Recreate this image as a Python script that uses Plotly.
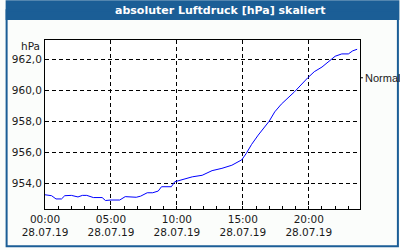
import plotly.graph_objects as go

# ---- data ----
day = "2019-07-28"
times = ["00:00","00:30","00:50","01:15","01:30","02:00","02:30","02:50","03:10","03:40",
         "04:20","04:35","05:00","05:40","06:05","06:30","06:55","07:15","07:45","08:10",
         "08:35","08:50","09:35","09:50","10:20","11:10","11:55","12:40","13:25","14:10",
         "14:55","15:15","15:40","16:10","17:00","17:25","17:55","18:55","19:55","20:25",
         "21:00","21:35","22:00","22:30","23:00","23:20","23:40"]
values = [953.24,953.18,952.97,952.97,953.18,953.2,953.1,953.2,953.2,953.06,
          953.06,952.87,952.9,952.9,953.12,953.08,953.08,953.15,953.37,953.37,
          953.48,953.76,953.76,954.08,954.2,954.4,954.5,954.8,954.95,955.15,
          955.5,955.9,956.5,957.1,958.0,958.6,959.1,959.9,960.8,961.2,
          961.5,961.9,962.2,962.35,962.35,962.55,962.65]
x_tick_times = ["00:00","05:00","10:00","15:00","20:00"]
x_tick_labels = ["00:00<br>28.07.19","05:00<br>28.07.19","10:00<br>28.07.19",
                 "15:00<br>28.07.19","20:00<br>28.07.19"]
y_ticks = [954, 956, 958, 960, 962]
y_tick_labels = ["954,0", "956,0", "958,0", "960,0", "962,0"]
title = "absoluter Luftdruck [hPa] skaliert"
unit = "hPa"
series_name = "Normal"

W, H = 400, 250
L, R, T, B = 40, 40, 40, 40
PW, PH = W - L - R, H - T - B

def px(x):
    return (x - L) / PW

def py(y):
    return (H - B - y) / PH

FONT = "DejaVu Sans"
BLUE = "#1B5E96"

fig = go.Figure()
fig.add_trace(go.Scatter(
    x=[f"{day} {t}" for t in times], y=values, mode="lines",
    line=dict(color="#0000FF", width=1), name=series_name, showlegend=False,
))

fig.update_layout(
    width=W, height=H,
    margin=dict(l=L, r=R, t=T, b=B),
    paper_bgcolor="#FBFDFB", plot_bgcolor="#FFFFFF",
    font=dict(family=FONT, size=10.5, color="#1a1a1a"),
    xaxis=dict(
        type="date",
        range=[f"{day} 00:00", f"{day} 23:53"],
        tickvals=[f"{day} {t}" for t in x_tick_times],
        ticktext=x_tick_labels,
        showgrid=True, gridcolor="#000000", gridwidth=1, griddash="4px,3px",
        showline=True, linecolor="#000000", linewidth=1, mirror=True,
        ticks="inside", ticklen=3, tickcolor="#000000",
        minor=dict(dtick=3600000, ticks="inside", ticklen=3, tickcolor="#000000", showgrid=False),
        zeroline=False,
    ),
    yaxis=dict(
        range=[952.32, 963.25],
        tickvals=y_ticks, ticktext=y_tick_labels,
        showgrid=True, gridcolor="#000000", gridwidth=1, griddash="4px,3px",
        showline=True, linecolor="#000000", linewidth=1, mirror=True,
        ticks="", zeroline=False,
    ),
    shapes=[
        dict(type="rect", xref="paper", yref="paper",
             x0=px(0), x1=px(400), y0=py(0), y1=py(20),
             fillcolor=BLUE, line=dict(width=0), layer="below"),
        dict(type="rect", xref="paper", yref="paper",
             x0=px(1), x1=px(398.5), y0=py(247.5), y1=py(10),
             fillcolor="rgba(0,0,0,0)", line=dict(color=BLUE, width=2)),
        dict(type="line", xref="paper", yref="paper",
             x0=px(360), x1=px(363), y0=py(78), y1=py(78),
             line=dict(color="#000000", width=1)),
    ],
    annotations=[
        dict(text=f"<b>{title}</b>", xref="paper", yref="paper",
             x=px(218), y=py(10), xanchor="center", yanchor="middle",
             showarrow=False, font=dict(family=FONT, size=11, color="#FFFFFF")),
        dict(text=unit, xref="paper", yref="paper",
             x=px(37), y=py(46), xanchor="right", yanchor="middle",
             showarrow=False),
        dict(text=series_name, xref="paper", yref="paper",
             x=px(363), y=py(78), xanchor="left", yanchor="middle",
             showarrow=False, font=dict(family="Liberation Sans", size=11)),
    ],
)

fig.write_html("out.html")
